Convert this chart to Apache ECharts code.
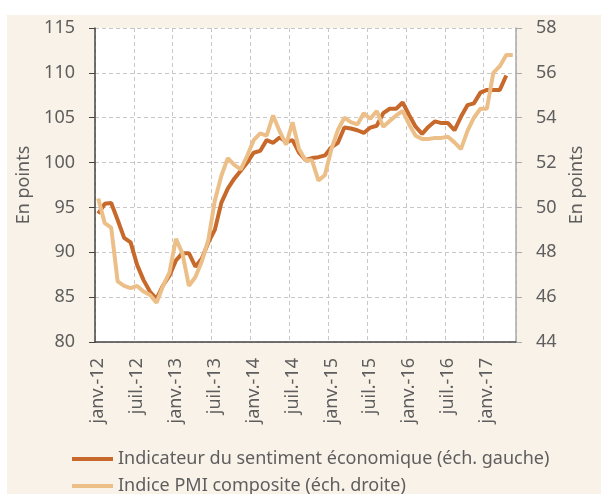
<!DOCTYPE html>
<html>
<head>
<meta charset="utf-8">
<script src="https://cdn.jsdelivr.net/npm/echarts@6/dist/echarts.min.js"></script>
<style>
  html, body { margin: 0; padding: 0; background: #ffffff; }
  #main { width: 601px; height: 494px; }
</style>
</head>
<body>
<div id="main"></div>
<script>
// months / years used for the category labels
var monthNames = ['janv.', 'févr.', 'mars', 'avr.', 'mai', 'juin', 'juil.', 'août', 'sept.', 'oct.', 'nov.', 'déc.'];
var years = ['12', '13', '14', '15', '16', '17'];
var monthCount = 65; // janv.-12 .. mai-17

// Indicateur du sentiment économique (left scale)
var sentiment = [
    94.3, 95.4, 95.5, 93.6, 91.6, 91.1, 88.6, 86.9, 85.6, 84.8, 86.3, 87.4,
    89.1, 89.9, 89.9, 88.4, 89.3, 91.1, 92.5, 95.5, 97.1, 98.2, 99.1, 100.0,
    101.1, 101.3, 102.5, 102.2, 102.8, 102.3, 102.5, 101.1, 100.3, 100.5, 100.6, 100.8,
    101.7, 102.2, 103.9, 103.8, 103.6, 103.3, 103.9, 104.1, 105.5, 106.0, 106.0, 106.7,
    105.3, 104.0, 103.2, 104.0, 104.6, 104.4, 104.4, 103.6, 105.1, 106.4, 106.6, 107.8,
    108.1, 108.1, 108.1, 109.7, null
];

// Indice PMI composite (right scale)
var pmi = [
    50.4, 49.3, 49.1, 46.7, 46.5, 46.4, 46.5, 46.25, 46.1, 45.75, 46.5, 47.1,
    48.6, 47.95, 46.5, 46.9, 47.6, 48.55, 50.3, 51.4, 52.2, 51.9, 51.7, 52.3,
    53.0, 53.3, 53.2, 54.1, 53.4, 52.8, 53.8, 52.6, 52.1, 52.1, 51.2, 51.45,
    52.6, 53.45, 54.0, 53.8, 53.7, 54.2, 53.95, 54.3, 53.6, 53.85, 54.1, 54.3,
    53.7, 53.2, 53.05, 53.05, 53.1, 53.1, 53.15, 52.9, 52.6, 53.4, 54.0, 54.4,
    54.4, 56.0, 56.3, 56.8, 56.8
];

var seriesNames = [
    'Indicateur du sentiment économique (éch. gauche)',
    'Indice PMI composite (éch. droite)'
];

var categories = [];
for (var i = 0; i < monthCount; i++) {
    categories.push(monthNames[i % 12] + '-' + years[Math.floor(i / 12)]);
}

var textColor = '#5e5e5e';
var fontName = 'Noto Sans';
var fontSize = 18;

function legendAt(top, name) {
    return {
        orient: 'horizontal',
        left: 67,
        top: top,
        icon: 'rect',
        itemWidth: 41,
        itemHeight: 4,
        textStyle: { color: textColor, fontSize: fontSize, fontFamily: fontName },
        data: [name]
    };
}

var chartDom = document.getElementById('main');
var myChart = echarts.init(chartDom, null, { renderer: 'canvas' });
var option;

option = {
    animation: false,
    backgroundColor: '#ffffff',
    textStyle: { fontFamily: fontName },
    graphic: [
        {
            type: 'rect',
            z: -10,
            shape: { x: 7, y: 15, width: 594, height: 479 },
            style: { fill: '#f9f2e8' }
        }
    ],
    grid: {
        left: 95,
        right: 85,
        top: 28,
        height: 314,
        show: true,
        backgroundColor: '#ffffff',
        borderWidth: 0
    },
    legend: [
        legendAt(445, seriesNames[0]),
        legendAt(472, seriesNames[1])
    ],
    xAxis: {
        type: 'category',
        data: categories,
        boundaryGap: true,
        axisLine: { lineStyle: { color: '#444444', width: 1.5 } },
        axisTick: { interval: 5, length: 6, lineStyle: { color: '#444444' } },
        axisLabel: {
            interval: 5,
            rotate: 90,
            margin: 16,
            color: textColor,
            fontSize: fontSize,
            fontFamily: fontName
        },
        splitLine: {
            show: true,
            interval: 5,
            lineStyle: { color: '#c8c8c8', type: [4, 3] }
        }
    },
    yAxis: [
        {
            type: 'value',
            min: 80,
            max: 115,
            interval: 5,
            name: 'En points',
            nameLocation: 'middle',
            nameRotate: 90,
            nameGap: 59,
            nameTextStyle: { color: textColor, fontSize: fontSize, fontFamily: fontName },
            axisLine: { show: true, lineStyle: { color: '#444444', width: 1.5 } },
            axisTick: { show: true, length: 6, lineStyle: { color: '#444444' } },
            axisLabel: { margin: 20, color: textColor, fontSize: fontSize, fontFamily: fontName },
            splitLine: { show: true, lineStyle: { color: '#c8c8c8', type: [4, 3] } }
        },
        {
            type: 'value',
            min: 44,
            max: 58,
            interval: 2,
            position: 'right',
            name: 'En points',
            nameLocation: 'middle',
            nameRotate: 90,
            nameGap: 50,
            nameTextStyle: { color: textColor, fontSize: fontSize, fontFamily: fontName },
            axisLine: { show: true, lineStyle: { color: '#aaaaaa', width: 1.5 } },
            axisTick: { show: true, length: 6, lineStyle: { color: '#aaaaaa' } },
            axisLabel: { margin: 20, color: textColor, fontSize: fontSize, fontFamily: fontName },
            splitLine: { show: false }
        }
    ],
    series: [
        {
            name: seriesNames[0],
            type: 'line',
            yAxisIndex: 0,
            data: sentiment,
            symbol: 'none',
            color: '#c8692c',
            lineStyle: { width: 4, color: '#c8692c' }
        },
        {
            name: seriesNames[1],
            type: 'line',
            yAxisIndex: 1,
            data: pmi,
            symbol: 'none',
            color: '#edbf88',
            lineStyle: { width: 4, color: '#edbf88' }
        }
    ]
};

option && myChart.setOption(option);
</script>
</body>
</html>
